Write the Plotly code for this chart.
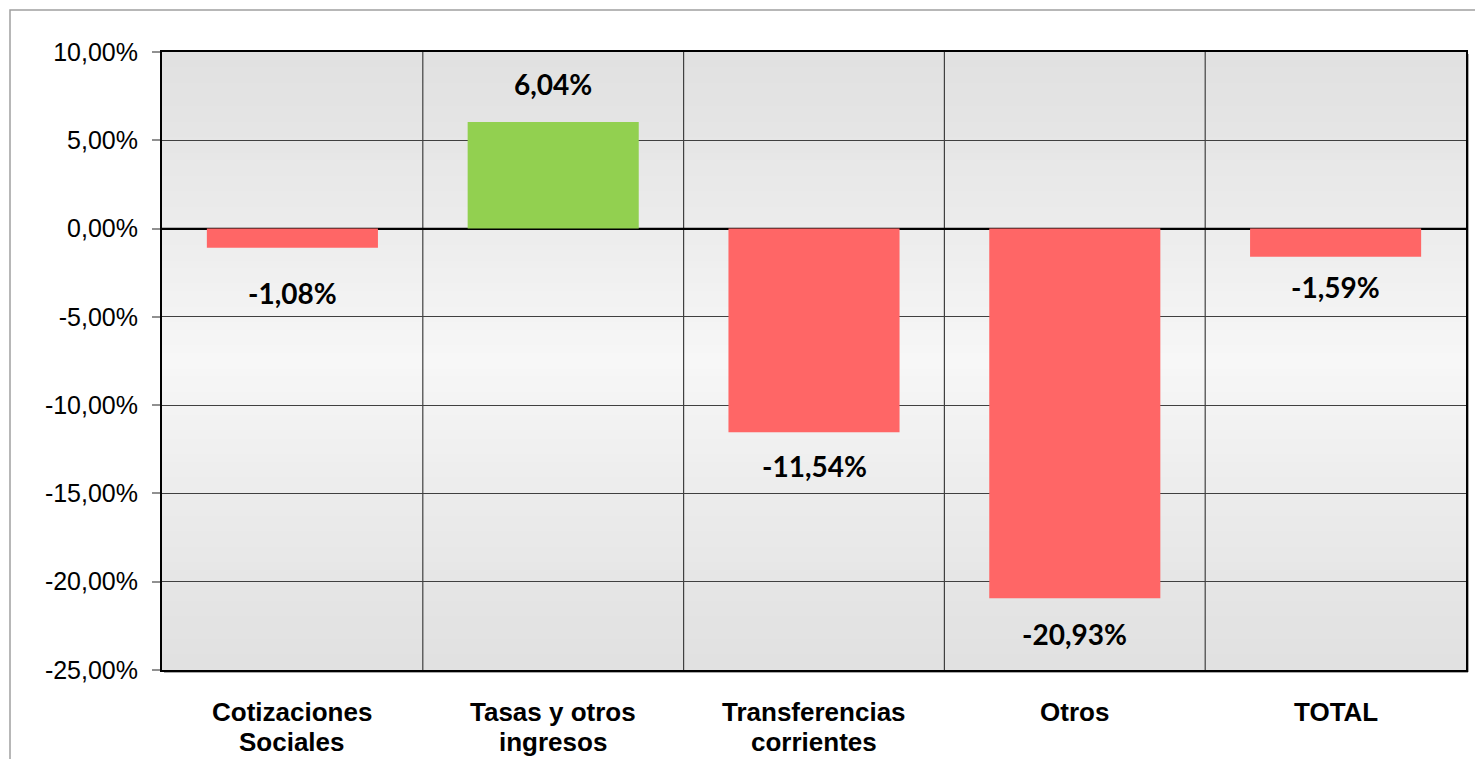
import plotly.graph_objects as go

categories = ["Cotizaciones<br>Sociales", "Tasas y otros<br>ingresos", "Transferencias<br>corrientes", "Otros", "TOTAL"]
values = [-1.08, 6.04, -11.54, -20.93, -1.59]
label_texts = ["-1,08%", "6,04%", "-11,54%", "-20,93%", "-1,59%"]
y_ticks = [10, 5, 0, -5, -10, -15, -20, -25]
y_tick_labels = ["10,00%", "5,00%", "0,00%", "-5,00%", "-10,00%", "-15,00%", "-20,00%", "-25,00%"]

# page has an 8px body margin; work in page pixel coordinates
OFF = 8
W, H = 1483 - 2 * OFF, 767 - 2 * OFF
PL, PT, PR, PB = 162, 52, 1466, 670  # plot area in page pixels
L, T = PL - OFF, PT - OFF
R = (OFF + W) - PR
B = (OFF + H) - PB
pw, ph = PR - PL, PB - PT

colors = ["#92D050" if v > 0 else "#FF6666" for v in values]

fig = go.Figure()
fig.add_trace(go.Bar(
    x=list(range(len(categories))), y=values,
    marker=dict(color=colors, line=dict(width=0)),
    width=0.656, hoverinfo="skip",
))

shapes = []
n = 80
def lerp(a, b, t):
    return int(round(a + (b - a) * t))
for i in range(n):
    y0 = i / n
    y1 = (i + 1) / n
    t = 1 - abs((y0 + y1) / 2 - 0.5) * 2
    t = t ** 1.2
    c = lerp(0xE1, 0xF7, t)
    shapes.append(dict(type="rect", xref="paper", yref="paper", x0=0, x1=1, y0=y0, y1=y1 + 0.002,
                       fillcolor=f"rgb({c},{c},{c})", line=dict(width=0), layer="below"))
px = lambda p: (p - PL) / pw
py = lambda p: 1 - (p - PT) / ph
# outer border (page coords)
shapes.append(dict(type="rect", xref="paper", yref="paper", x0=px(10), x1=px(1520), y0=py(10), y1=py(820),
                   line=dict(color="#A0A0A0", width=1.5), fillcolor="rgba(0,0,0,0)", layer="below"))
# shadow of plot border
shapes.append(dict(type="line", xref="paper", yref="paper", x0=px(164), x1=px(1468), y0=py(672), y1=py(672),
                   line=dict(color="#A8A8A8", width=2), layer="below"))
shapes.append(dict(type="line", xref="paper", yref="paper", x0=px(1468), x1=px(1468), y0=py(54), y1=py(672),
                   line=dict(color="#A8A8A8", width=2), layer="below"))

offsets = [-45, 38, -34, -36, -30]
annotations = []
for i, (v, txt) in enumerate(zip(values, label_texts)):
    annotations.append(dict(x=i, y=v, text=f"<b>{txt}</b>", showarrow=False,
                            yanchor="middle", yshift=offsets[i],
                            font=dict(family="Lato", size=28, color="black")))
# category labels (one annotation per line for tight line spacing)
for i, cat in enumerate(categories):
    for j, line in enumerate(cat.split("<br>")):
        annotations.append(dict(x=i, xref="x", y=0, yref="paper", text=f"<b>{line}</b>", showarrow=False,
                                yanchor="middle", yshift=-42 - 30 * j,
                                font=dict(family="Liberation Sans", size=26, color="black")))

fig.update_layout(
    width=W, height=H,
    margin=dict(l=L, r=R, t=T, b=B, autoexpand=False),
    paper_bgcolor="white", plot_bgcolor="rgba(0,0,0,0)",
    showlegend=False,
    shapes=shapes, annotations=annotations,
)
fig.update_xaxes(
    range=[-0.5, 4.5], automargin=False,
    showticklabels=False,
    showgrid=False, ticks="",
    showline=True, linecolor="black", linewidth=2, mirror=True, zeroline=False,
)
for xb in [0.5, 1.5, 2.5, 3.5]:
    fig.add_shape(type="line", xref="x", yref="paper", x0=xb, x1=xb, y0=0, y1=1,
                  line=dict(color="#404040", width=1.2), layer="below")
fig.update_yaxes(
    range=[-25, 10], automargin=False,
    tickmode="array", tickvals=y_ticks, ticktext=y_tick_labels,
    tickfont=dict(family="Liberation Sans", size=25, color="black"),
    showgrid=True, gridcolor="#404040", gridwidth=1.2,
    zeroline=True, zerolinecolor="black", zerolinewidth=1.5,
    ticks="outside", ticklen=8, tickcolor="#909090", tickwidth=2,
    ticklabelstandoff=9,
    showline=True, linecolor="black", linewidth=2, mirror=True,
)
fig.add_shape(type="line", xref="paper", yref="y", x0=0, x1=1, y0=0, y1=0,
              line=dict(color="black", width=1.5), layer="between")

fig.write_html("out.html")
